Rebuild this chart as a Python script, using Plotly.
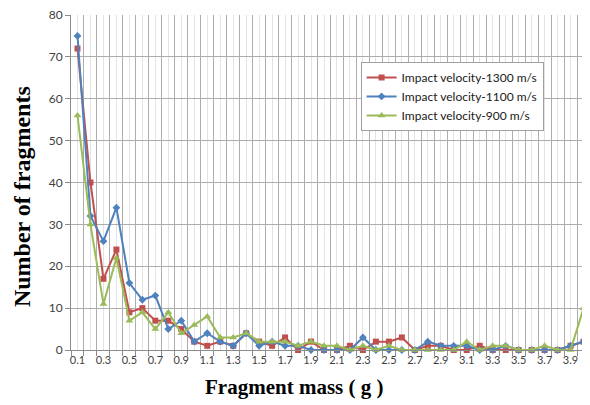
import plotly.graph_objects as go

masses = [f"{(i + 1) / 10:.1f}" for i in range(40)]
v1300 = [72, 40, 17, 24, 9, 10, 7, 7, 5, 2, 1, 2, 1, 4, 2, 1, 3, 0, 2, 0,
         0, 1, 0, 2, 2, 3, 0, 1, 1, 0, 0, 1, 0, 0, 0, 0, 0, 0, 1, 2]
v1100 = [75, 32, 26, 34, 16, 12, 13, 5, 7, 2, 4, 2, 1, 4, 1, 2, 1, 1, 0, 0,
         0, 0, 3, 0, 0, 0, 0, 2, 1, 1, 1, 0, 0, 1, 0, 0, 0, 0, 1, 2]
v900 = [56, 30, 11, 22, 7, 9, 5, 9, 4, 6, 8, 3, 3, 4, 2, 2, 2, 1, 2, 1,
        1, 0, 1, 0, 1, 0, 0, 0, 0, 0, 2, 0, 1, 1, 0, 0, 1, 0, 0, 10]
series_names = ["Impact velocity-1300 m/s", "Impact velocity-1100 m/s", "Impact velocity-900 m/s"]

idx = list(range(len(masses)))
ticktext = [m if i % 2 == 0 else "" for i, m in enumerate(masses)]

fig = go.Figure()
styles = [
    (v1300, "#C0504D", "square", 6),
    (v1100, "#4F81BD", "diamond", 6),
    (v900, "#9BBB59", "triangle-up", 7),
]
for (vals, col, sym, sz), name in zip(styles, series_names):
    fig.add_trace(go.Scatter(
        x=idx, y=vals, name=name, mode="lines+markers",
        line=dict(color=col, width=2),
        marker=dict(symbol=sym, size=sz, color=col),
        cliponaxis=False,
    ))

fig.update_layout(
    width=582, height=397,
    margin=dict(l=63, r=0, t=7, b=55),
    plot_bgcolor="white", paper_bgcolor="white",
    font=dict(family="Lato, Open Sans, sans-serif", color="#404040"),
    legend=dict(
        x=0.558, y=0.86, xanchor="left", yanchor="top",
        bgcolor="white", bordercolor="#A0A0A0", borderwidth=1,
        font=dict(size=12, color="#202020", family="Lato, sans-serif"),
        tracegroupgap=0, itemwidth=30,
    ),
    xaxis=dict(
        range=[-0.5, 39.5],
        tickmode="array", tickvals=idx, ticktext=ticktext,
        showgrid=True, gridcolor="#E3E3E3", gridwidth=1,
        ticks="", tickfont=dict(size=11, color="#404040"),
        ticklabeloverflow="allow", automargin=False,
        showline=True, linecolor="#8C8C8C", linewidth=1,
        zeroline=False,
        minor=dict(tick0=-0.5, dtick=1, showgrid=True, gridcolor="#ADADAD",
                   gridwidth=1, ticks="outside", ticklen=5, tickcolor="#8C8C8C"),
    ),
    yaxis=dict(
        range=[0, 80], dtick=10,
        showgrid=True, gridcolor="#ADADAD", gridwidth=1,
        ticks="outside", ticklen=5, tickcolor="#8C8C8C",
        tickfont=dict(size=12, color="#404040"),
        ticklabeloverflow="allow", automargin=False,
        showline=True, linecolor="#8C8C8C", linewidth=1,
        zeroline=False,
    ),
    annotations=[
        dict(text="<b>Fragment mass ( g )</b>", xref="paper", yref="paper",
             x=0.43, y=-0.11, xanchor="center", yanchor="middle", showarrow=False,
             font=dict(family="Liberation Serif, Times New Roman, serif", size=21, color="black")),
        dict(text="<b>Number of fragments</b>", xref="paper", yref="paper",
             x=-0.094, y=0.457, xanchor="center", yanchor="middle", showarrow=False,
             textangle=-90,
             font=dict(family="Liberation Serif, Times New Roman, serif", size=24, color="black")),
    ],
)

fig.write_html("out.html")
